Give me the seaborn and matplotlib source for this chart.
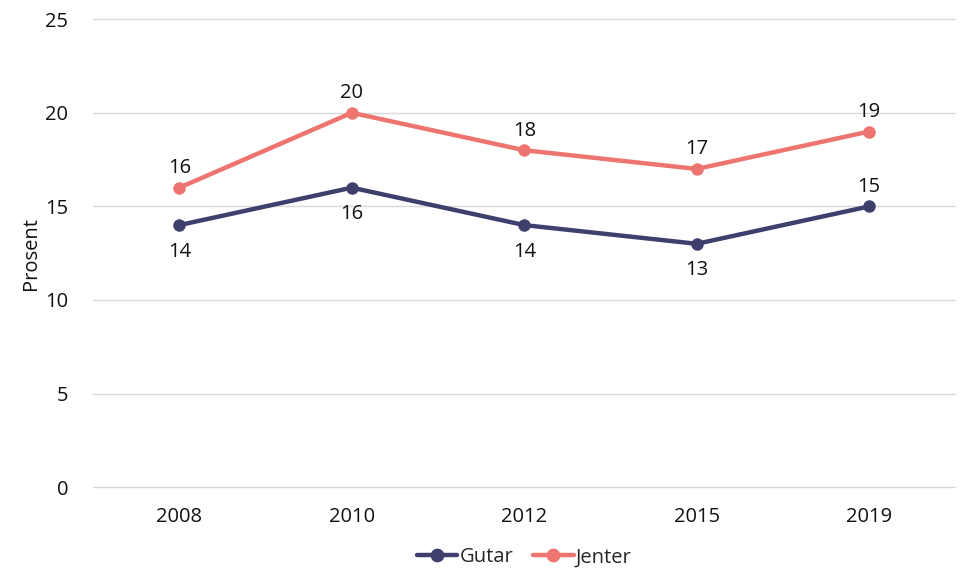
import pandas as pd
import seaborn as sns
import matplotlib.pyplot as plt

# chart values
years = ["2008", "2010", "2012", "2015", "2019"]
gutar = [14, 16, 14, 13, 15]
jenter = [16, 20, 18, 17, 19]

df = pd.DataFrame({
    "År": years * 2,
    "Prosent": gutar + jenter,
    "Kjønn": ["Gutar"] * len(years) + ["Jenter"] * len(years),
})

sns.set_theme(style="white")
plt.rcParams["font.family"] = ["Open Sans", "DejaVu Sans"]

palette = {"Gutar": "#3f3f6e", "Jenter": "#ee756f"}
fs = 14.5

fig = plt.figure(figsize=(9.7, 5.82), dpi=100)
ax = fig.add_axes([0.096, 0.163, 0.889, 0.804])

sns.lineplot(data=df, x="År", y="Prosent", hue="Kjønn", palette=palette,
             marker="o", markersize=9, markeredgewidth=0, linewidth=3.2,
             sort=False, ax=ax)

# data labels: Jenter above, Gutar below (except last point)
for i, v in enumerate(jenter):
    ax.annotate(str(v), (i, v), xytext=(0, 7), textcoords="offset points",
                ha="center", va="bottom", fontsize=fs, color="#111111")
for i, v in enumerate(gutar):
    if i == len(gutar) - 1:
        ax.annotate(str(v), (i, v), xytext=(0, 7), textcoords="offset points",
                    ha="center", va="bottom", fontsize=fs, color="#111111")
    else:
        ax.annotate(str(v), (i, v), xytext=(0, -12), textcoords="offset points",
                    ha="center", va="top", fontsize=fs, color="#111111")

ax.set_ylim(0, 25)
ax.set_yticks([0, 5, 10, 15, 20, 25])
ax.set_xlim(-0.5, len(years) - 0.5)
ax.yaxis.grid(True, color="#d9d9d9", linewidth=1)
for gl in ax.get_ygridlines():
    gl.set_clip_on(False)
ax.set_axisbelow(True)
for s in ax.spines.values():
    s.set_visible(False)
ax.tick_params(axis="both", length=0, labelsize=fs, colors="#111111")
ax.tick_params(axis="y", pad=18)
ax.tick_params(axis="x", pad=14)
ax.set_xlabel("")
ax.set_ylabel("Prosent", fontsize=fs, color="#111111", labelpad=3)

ax.legend(loc="upper center", bbox_to_anchor=(0.5, -0.09), ncol=2, frameon=False,
          fontsize=fs, handlelength=2.0, handletextpad=0.1, columnspacing=1.0,
          markerscale=1.1)

fig.savefig("out.png", dpi=100)
